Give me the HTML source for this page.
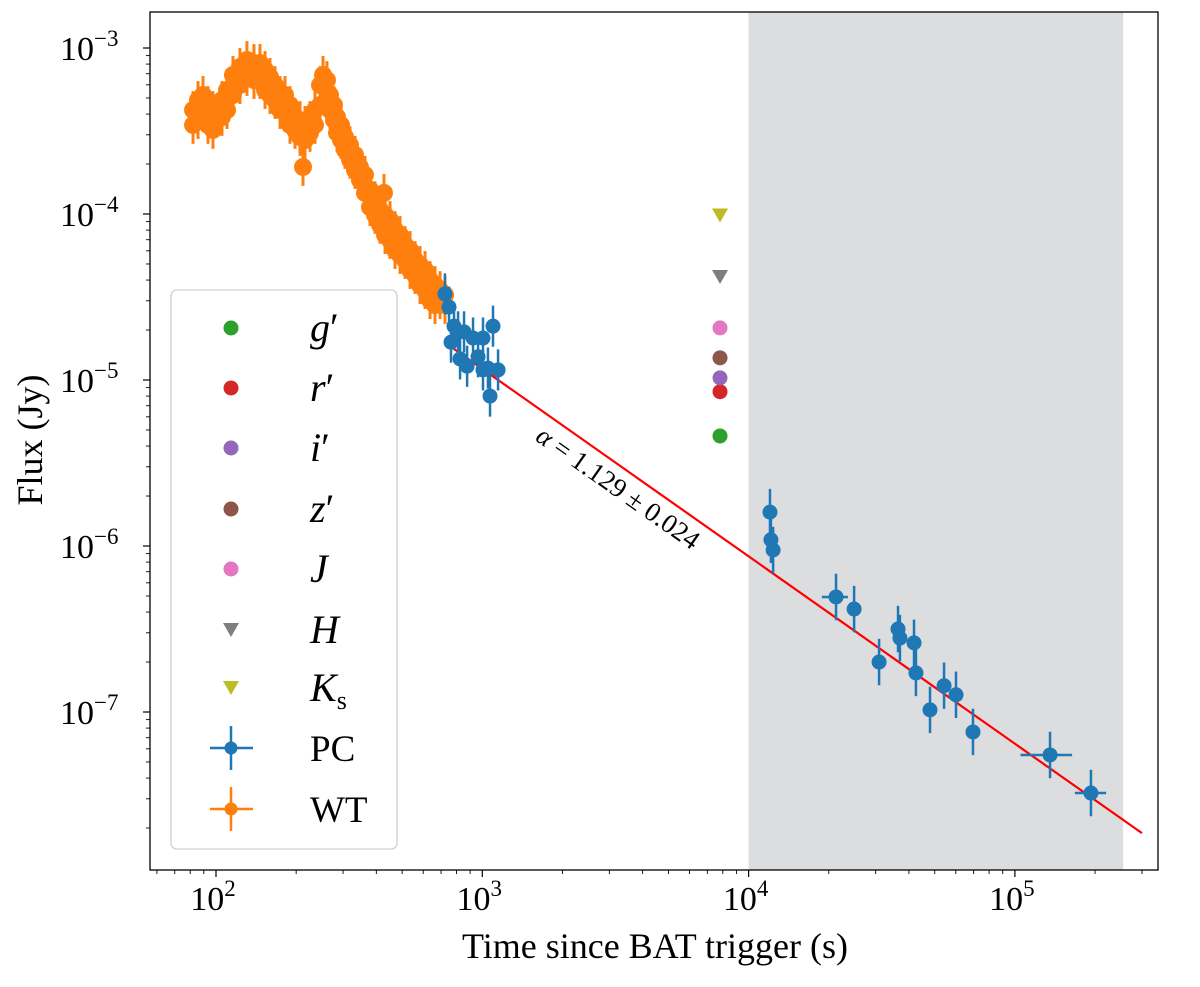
<!DOCTYPE html>
<html><head><meta charset="utf-8"><style>
html,body{margin:0;padding:0;background:#fff;}
svg text{font-family:"Liberation Serif","DejaVu Serif",serif;fill:#000;}
</style></head><body>
<svg id="chart" width="1200" height="982" xmlns="http://www.w3.org/2000/svg">
<g id="plot"></g>
</svg>
<script>
const xTickVals=[100,1000,10000,100000];
const xTickExp=["2","3","4","5"];
const yTickVals=[1e-3,1e-4,1e-5,1e-6,1e-7];
const yTickExp=["−3","−4","−5","−6","−7"];
const shadeRange=[10000,255000];
const fitAlpha=1.129;
const fitLogNorm=-1.546;
const fitRange=[720,300000];
const pcT=[724,750,763,783,811,825,854,877,923,964,1006,1006,1050,1069,1097,1146,12030,12130,12360,21300,24900,30900,36400,37000,41800,42500,48000,54200,60100,69600,135500,193000];
const pcF=[3.30e-5,2.75e-5,1.69e-5,2.11e-5,1.95e-5,1.34e-5,1.95e-5,1.21e-5,1.79e-5,1.38e-5,1.79e-5,1.15e-5,1.18e-5,8.0e-6,2.11e-5,1.15e-5,1.60e-6,1.09e-6,9.46e-7,4.93e-7,4.17e-7,2.00e-7,3.16e-7,2.79e-7,2.61e-7,1.72e-7,1.03e-7,1.44e-7,1.27e-7,7.58e-8,5.51e-8,3.25e-8];
const pcTlo=[0,0,0,0,0,0,0,0,0,0,0,0,0,0,0,0,0,0,0,18840,0,0,0,0,0,0,0,0,0,0,105000,168000];
const pcThi=[0,0,0,0,0,0,0,0,0,0,0,0,0,0,0,0,0,0,0,23600,0,0,0,0,0,0,0,0,0,0,164000,220000];
const wtT=[82,82,85.6,85.6,89.4,89.4,93.3,93.3,97.4,97.4,101,105.3,105.3,110,110,115.8,115.8,123,123,130.7,130.7,138.9,138.9,146.3,146.3,152.8,152.8,159.5,159.5,166.6,166.6,174,174,181.6,181.6,189.6,189.6,198,198,206.8,206.8,212.2,215.9,215.9,225.4,225.4,235.4,235.4,245.8,245.8,252.3,261.1,261.1,268,268,277.4,277.4,284.7,284.7,294.7,294.7,305.1,305.1,318.6,318.6,332.7,332.7,347.3,347.3,362.6,362.6,378.7,378.7,395.5,395.5,413,413,427.4,431.3,431.3,450.3,450.3,470.2,470.2,491,491,512.7,512.7,535.4,535.4,559,559,583.7,583.7,609.5,609.5,636.4,636.4,664.5,664.5,693.9,693.9,724.4,724.4];
const wtF=[4.23e-4,3.44e-4,4.86e-4,3.68e-4,5.21e-4,4.06e-4,4.53e-4,3.44e-4,4.23e-4,3.21e-4,4.06e-4,4.86e-4,3.84e-4,5.58e-4,4.23e-4,6.88e-4,5.21e-4,7.68e-4,5.98e-4,8.47e-4,6.69e-4,8.12e-4,6.41e-4,8.12e-4,6.41e-4,7.37e-4,5.58e-4,6.69e-4,5.21e-4,5.98e-4,4.86e-4,5.21e-4,4.23e-4,5.21e-4,4.06e-4,4.53e-4,3.44e-4,3.84e-4,3.21e-4,3.68e-4,2.91e-4,1.92e-4,3.44e-4,2.79e-4,3.68e-4,3.08e-4,4.23e-4,3.44e-4,5.98e-4,4.53e-4,6.88e-4,6.41e-4,4.86e-4,5.21e-4,4.23e-4,4.53e-4,3.68e-4,3.84e-4,3.08e-4,3.44e-4,2.79e-4,2.91e-4,2.43e-4,2.60e-4,2.12e-4,2.27e-4,1.84e-4,1.92e-4,1.60e-4,1.72e-4,1.34e-4,1.40e-4,1.10e-4,1.21e-4,9.87e-5,1.06e-4,8.6e-5,1.34e-4,9.87e-5,7.47e-5,9.2e-5,6.97e-5,8.0e-5,6.07e-5,7.47e-5,5.66e-5,6.5e-5,5.28e-5,6.07e-5,4.6e-5,5.28e-5,4.29e-5,4.93e-5,3.73e-5,4.6e-5,3.48e-5,4.0e-5,3.03e-5,3.73e-5,2.83e-5,3.48e-5,3.03e-5,3.25e-5,2.83e-5];
const optBands=["g","r","i","z","J","H","Ks"];
const optColors=["#2ca02c","#d62728","#9467bd","#8c564b","#e377c2","#7f7f7f","#bcbd22"];
const optT=[7810,7810,7810,7810,7810,7810,7810];
const optF=[4.6e-6,8.5e-6,1.03e-5,1.36e-5,2.06e-5,4.17e-5,9.8e-5];
const optUpper=[false,false,false,false,false,true,true];

const L=150,R=1158,T=12,B=870;
const X=t=>216+(Math.log10(t)-2)*266.3;
const Y=f=>48+(-3-Math.log10(f))*166;
const NS="http://www.w3.org/2000/svg";
const g=document.getElementById('plot');
function mk(tag,attrs,parent){const e=document.createElementNS(NS,tag);for(const k in attrs)e.setAttribute(k,attrs[k]);(parent||g).appendChild(e);return e;}

let e=mk('rect',{x:X(shadeRange[0]),y:T,width:X(shadeRange[1])-X(shadeRange[0]),height:B-T,fill:'#dcdddf'});



const ax=mk('g',{});


for(let d=1;d<=5;d++){for(let m=1;m<10;m++){const t=m*Math.pow(10,d);const x=X(t);if(x<L||x>R)continue;
 mk('line',{x1:x,x2:x,y1:B,y2:B+(m==1?7:4),stroke:'#000','stroke-width':m==1?1.2:0.9},ax);}}
for(let d=-8;d<=-3;d++){for(let m=1;m<10;m++){const f=m*Math.pow(10,d);const y=Y(f);if(y<T||y>B)continue;
 mk('line',{x1:L,x2:L-(m==1?7:4),y1:y,y2:y,stroke:'#000','stroke-width':m==1?1.2:0.9},ax);}}
xTickVals.forEach((v,i)=>{const t=mk('text',{x:X(v)-3,y:910,'font-size':34,'text-anchor':'middle'},ax);
 
 
 t.innerHTML='10<tspan dy="-14" font-size="23">'+xTickExp[i]+'</tspan>';});
yTickVals.forEach((v,i)=>{const t=mk('text',{x:60,y:Y(v)+12,'font-size':34},ax);
 
 
 t.innerHTML='10<tspan dy="-14" font-size="23">'+yTickExp[i]+'</tspan>';});

e=mk('line',{x1:X(fitRange[0]),y1:Y(Math.pow(10,fitLogNorm-fitAlpha*Math.log10(fitRange[0]))),x2:X(fitRange[1]),y2:Y(Math.pow(10,fitLogNorm-fitAlpha*Math.log10(fitRange[1]))),stroke:'#ff0000','stroke-width':2.2});



const wtG=mk('g',{});


wtT.forEach((t,i)=>{const x=X(t),y=Y(wtF[i]);
 mk('line',{x1:x,x2:x,y1:Y(wtF[i]*1.3),y2:Y(wtF[i]/1.3),stroke:'#ff7f0e','stroke-width':3},wtG);
 const c=mk('circle',{cx:x,cy:y,r:9,fill:'#ff7f0e'},wtG);
 
 });

const pcG=mk('g',{});


pcT.forEach((t,i)=>{const x=X(t),y=Y(pcF[i]);
 const fe=i<16?1.33:1.38;
 mk('line',{x1:x,x2:x,y1:Y(pcF[i]*fe),y2:Y(pcF[i]/fe),stroke:'#1f77b4','stroke-width':2.5},pcG);
 if(pcTlo[i]>0)mk('line',{x1:X(pcTlo[i]),x2:X(pcThi[i]),y1:y,y2:y,stroke:'#1f77b4','stroke-width':2.5},pcG);
 const c=mk('circle',{cx:x,cy:y,r:7.5,fill:'#1f77b4'},pcG);
 
 });

optT.forEach((t,i)=>{const x=X(t),y=Y(optF[i]);let c;
 if(optUpper[i])c=mk('path',{d:`M${x-8},${y-7}L${x+8},${y-7}L${x},${y+7}Z`,fill:optColors[i]});
 else c=mk('circle',{cx:x,cy:y,r:7.5,fill:optColors[i]});
 
 });

e=mk('text',{x:0,y:0,'font-size':27,'text-anchor':'middle',transform:'translate(613,495) rotate(35.1)'});


e.innerHTML='<tspan font-style="italic">α</tspan> = 1.129 ± 0.024';

e=mk('rect',{x:L,y:T,width:R-L,height:B-T,fill:'none',stroke:'#000','stroke-width':1.3});



const lg=mk('g',{});


mk('rect',{x:171,y:290,width:226,height:559,rx:6,fill:'#fff','fill-opacity':0.85,stroke:'#d0d0d0','stroke-width':1.3},lg);
const legRows=[328,388,448,509,569,630,688];
const legLabels=['<tspan font-style="italic">g</tspan>′','<tspan font-style="italic">r</tspan>′','<tspan font-style="italic">i</tspan>′','<tspan font-style="italic">z</tspan>′','<tspan font-style="italic">J</tspan>','<tspan font-style="italic">H</tspan>','<tspan font-style="italic">K</tspan><tspan dy="8" font-size="26">s</tspan>'];
legRows.forEach((y,i)=>{let m;
 if(optUpper[i])m=mk('path',{d:`M223,${y-7}L239,${y-7}L231,${y+7}Z`,fill:optColors[i]},lg);
 else m=mk('circle',{cx:231,cy:y,r:7.5,fill:optColors[i]},lg);
 
 
 const t=mk('text',{x:310,y:y+13,'font-size':40},lg);
 
 
 t.innerHTML=legLabels[i];});
[[748,'#1f77b4','PC'],[809,'#ff7f0e','WT']].forEach(([y,c,l])=>{
 mk('line',{x1:210,x2:253,y1:y,y2:y,stroke:c,'stroke-width':2.5},lg);
 mk('line',{x1:231,x2:231,y1:y-22,y2:y+22,stroke:c,'stroke-width':2.5},lg);
 const m=mk('circle',{cx:231,cy:y,r:6.5,fill:c},lg);
 
 
 const t=mk('text',{x:310,y:y+13,'font-size':37},lg);
 
 
 t.textContent=l;});

e=mk('text',{x:655,y:958,'font-size':36,'text-anchor':'middle'});


e.textContent='Time since BAT trigger (s)';
e=mk('text',{x:0,y:0,'font-size':36,'text-anchor':'middle',transform:'translate(42,440) rotate(-90)'});


e.textContent='Flux (Jy)';
</script>
</body></html>
